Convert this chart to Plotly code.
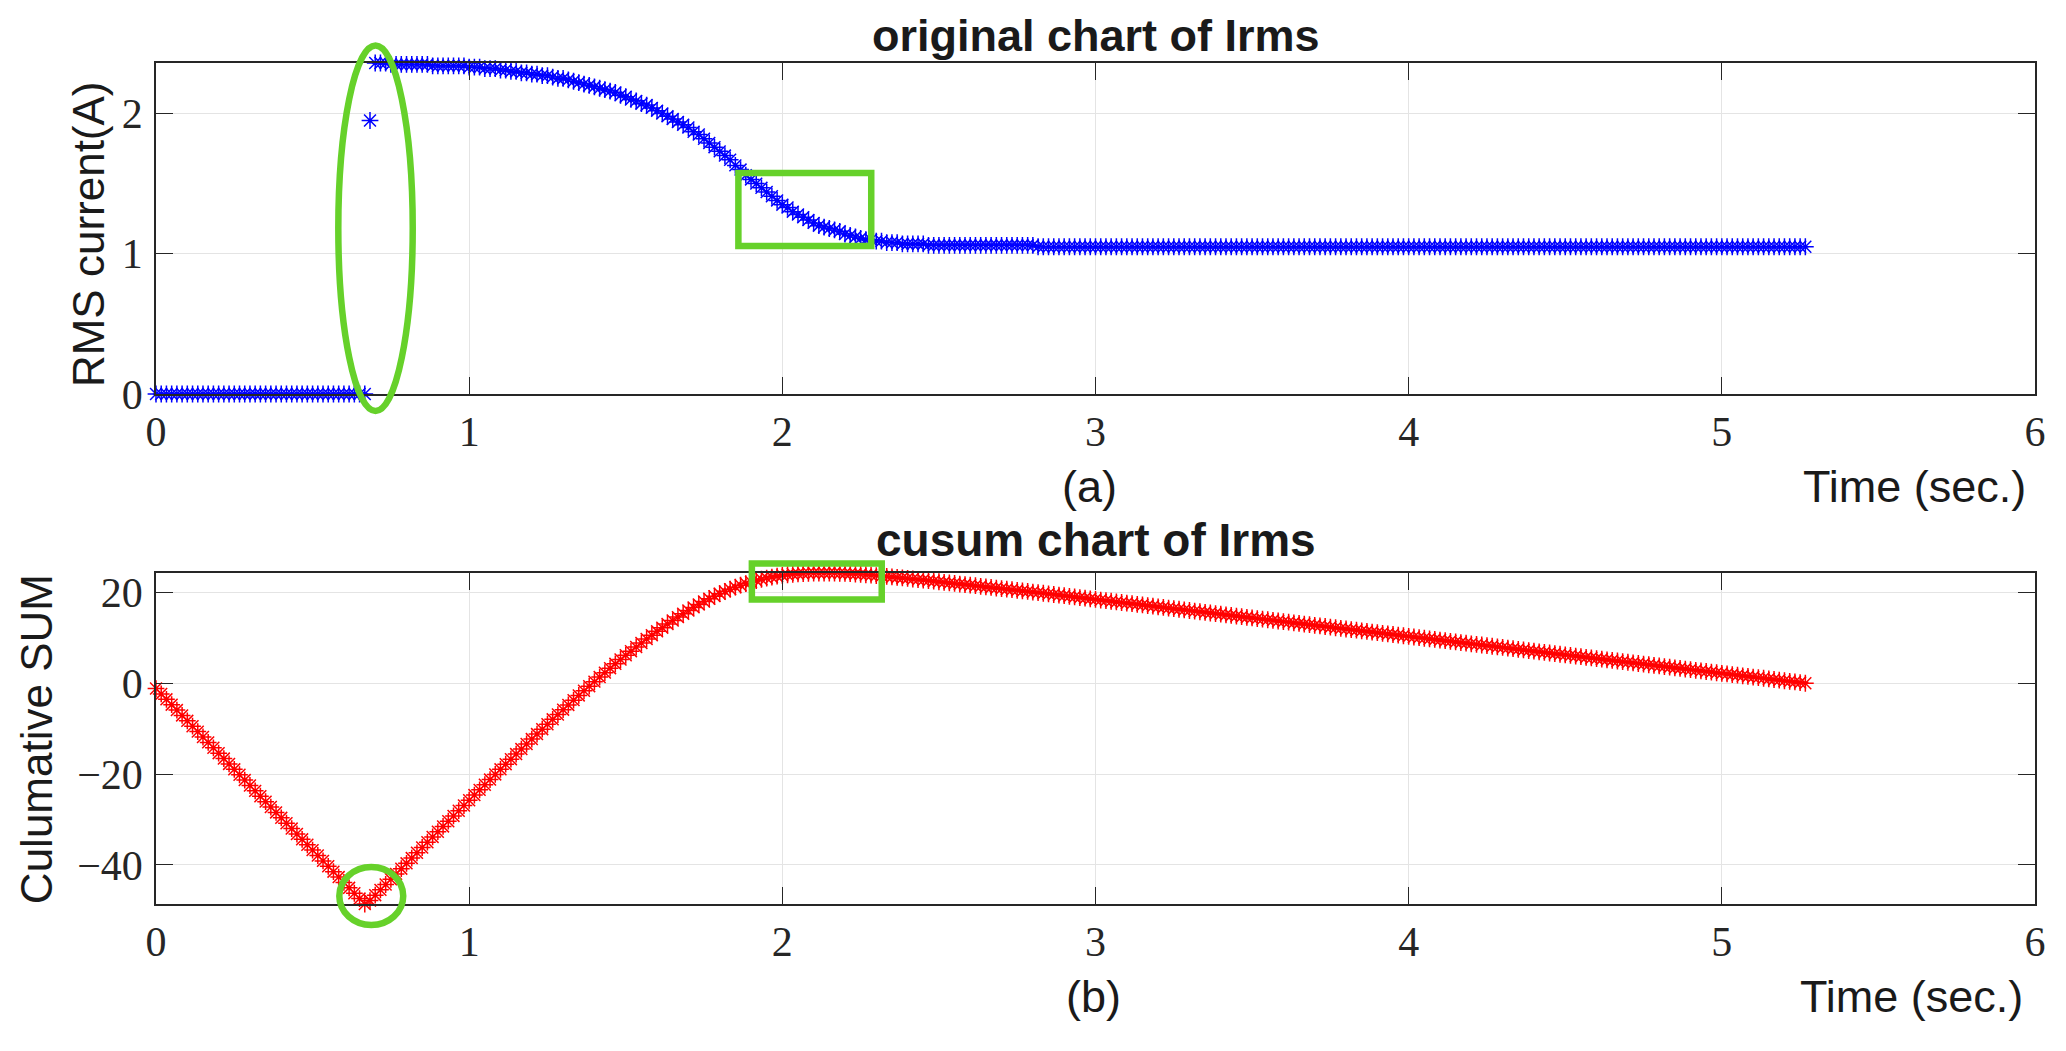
import plotly.graph_objects as go

# ---------------- data ----------------
SAMPLE_RATE_HZ = 60  # one RMS value per 60 Hz cycle

irms = [
    0.00, 0.00, 0.00, 0.00, 0.00, 0.00, 0.00, 0.00, 0.00, 0.00,
    0.00, 0.00, 0.00, 0.00, 0.00, 0.00, 0.00, 0.00, 0.00, 0.00,
    0.00, 0.00, 0.00, 0.00, 0.00, 0.00, 0.00, 0.00, 0.00, 0.00,
    0.00, 0.00, 0.00, 0.00, 0.00, 0.00, 0.00, 0.00, 0.00, 0.00,
    0.00,
    1.95, 2.36, 2.36, 2.36,
    2.35, 2.35, 2.35, 2.35, 2.35, 2.35, 2.35, 2.35,
    2.34, 2.34, 2.34, 2.34, 2.34, 2.34, 2.34,
    2.33, 2.33, 2.33, 2.32, 2.32, 2.32, 2.31, 2.31, 2.30, 2.30,
    2.29, 2.29, 2.28, 2.28, 2.27, 2.27, 2.26, 2.25, 2.25,
    2.24, 2.23, 2.22, 2.21, 2.20, 2.19, 2.18, 2.17,
    2.16, 2.15, 2.13, 2.12, 2.10, 2.09, 2.07, 2.06,
    2.04, 2.02, 2.00, 1.98, 1.96, 1.94, 1.92, 1.90,
    1.87, 1.85, 1.82, 1.79, 1.76, 1.73,
    1.70, 1.67, 1.63, 1.60, 1.56, 1.53,
    1.50, 1.47, 1.44, 1.41, 1.38, 1.35,
    1.33, 1.30, 1.28, 1.26, 1.24, 1.22,
    1.20, 1.19, 1.18, 1.17, 1.16, 1.14,
    1.13, 1.12, 1.11, 1.10, 1.10, 1.09,
    1.09, 1.08, 1.08, 1.08, 1.07, 1.07,
    1.07, 1.07, 1.07,
    1.06, 1.06, 1.06, 1.06, 1.06, 1.06, 1.06, 1.06, 1.06,
    1.06, 1.06, 1.06, 1.06, 1.06, 1.06, 1.06, 1.06, 1.06, 1.06, 1.06, 1.06,
    1.05, 1.05, 1.05, 1.05, 1.05, 1.05, 1.05, 1.05, 1.05, 1.05,
    1.05, 1.05, 1.05, 1.05, 1.05, 1.05, 1.05, 1.05, 1.05, 1.05,
    1.05, 1.05, 1.05, 1.05, 1.05, 1.05, 1.05, 1.05, 1.05, 1.05,
    1.05, 1.05, 1.05, 1.05, 1.05, 1.05, 1.05, 1.05, 1.05, 1.05,
    1.05, 1.05, 1.05, 1.05, 1.05, 1.05, 1.05, 1.05, 1.05, 1.05,
    1.05, 1.05, 1.05, 1.05, 1.05, 1.05, 1.05, 1.05, 1.05, 1.05,
    1.05, 1.05, 1.05, 1.05, 1.05, 1.05, 1.05, 1.05, 1.05, 1.05,
    1.05, 1.05, 1.05, 1.05, 1.05, 1.05, 1.05, 1.05, 1.05, 1.05,
    1.05, 1.05, 1.05, 1.05, 1.05, 1.05, 1.05, 1.05, 1.05, 1.05,
    1.05, 1.05, 1.05, 1.05, 1.05, 1.05, 1.05, 1.05, 1.05, 1.05,
    1.05, 1.05, 1.05, 1.05, 1.05, 1.05, 1.05, 1.05, 1.05, 1.05,
    1.05, 1.05, 1.05, 1.05, 1.05, 1.05, 1.05, 1.05, 1.05, 1.05,
    1.05, 1.05, 1.05, 1.05, 1.05, 1.05, 1.05, 1.05, 1.05, 1.05,
    1.05, 1.05, 1.05, 1.05, 1.05, 1.05, 1.05, 1.05, 1.05, 1.05,
    1.05, 1.05, 1.05, 1.05, 1.05, 1.05, 1.05, 1.05,
]

cusum = [
    -1.19, -2.37, -3.56, -4.74, -5.93, -7.11, -8.30, -9.48, -10.67, -11.86,
    -13.04, -14.23, -15.41, -16.60, -17.78, -18.97, -20.16, -21.34, -22.53, -23.71,
    -24.90, -26.08, -27.27, -28.45, -29.64, -30.83, -32.01, -33.20, -34.38, -35.57,
    -36.75, -37.94, -39.12, -40.31, -41.50, -42.68, -43.87, -45.05, -46.24, -47.42,
    -48.61,
    -47.85, -46.67, -45.50, -44.32, -43.16, -41.99, -40.83, -39.66, -38.50, -37.34,
    -36.17, -35.01, -33.85, -32.70, -31.54, -30.39, -29.23, -28.08, -26.93, -25.78,
    -24.64, -23.49, -22.36, -21.22, -20.09, -18.97, -17.84, -16.73, -15.61, -14.51,
    -13.40, -12.31, -11.21, -10.13, -9.05, -7.97, -6.91, -5.84, -4.79, -3.74,
    -2.71, -1.68, -0.67, 0.33, 1.33, 2.31, 3.29, 4.25, 5.20, 6.13,
    7.04, 7.95, 8.83, 9.71, 10.56, 11.40, 12.21, 13.01, 13.78, 14.53,
    15.27, 15.98, 16.67, 17.33, 17.97, 18.57, 19.15, 19.69, 20.20, 20.69,
    21.13, 21.55, 21.92, 22.27, 22.58, 22.86, 23.12, 23.34, 23.54, 23.70,
    23.85, 23.96, 24.06, 24.13, 24.18, 24.22, 24.23, 24.24, 24.23, 24.22,
    24.19, 24.15, 24.09, 24.02, 23.95, 23.86, 23.78, 23.68, 23.59, 23.48,
    23.37, 23.27, 23.15, 23.04, 22.92, 22.81, 22.69, 22.57, 22.44, 22.31,
    22.19, 22.06, 21.94, 21.81, 21.69, 21.56, 21.44, 21.31, 21.18, 21.06,
    20.93, 20.81, 20.68, 20.56, 20.43, 20.30, 20.18, 20.05,
    19.92, 19.78, 19.65, 19.51, 19.38, 19.24, 19.10, 18.97, 18.83, 18.70,
    18.56, 18.43, 18.29, 18.16, 18.02, 17.88, 17.75, 17.61, 17.48, 17.34,
    17.21, 17.07, 16.93, 16.80, 16.66, 16.53, 16.39, 16.26, 16.12, 15.99,
    15.85, 15.71, 15.58, 15.44, 15.31, 15.17, 15.04, 14.90, 14.77, 14.63,
    14.49, 14.36, 14.22, 14.09, 13.95, 13.82, 13.68, 13.54, 13.41, 13.27,
    13.14, 13.00, 12.87, 12.73, 12.60, 12.46, 12.32, 12.19, 12.05, 11.92,
    11.78, 11.65, 11.51, 11.38, 11.24, 11.10, 10.97, 10.83, 10.70, 10.56,
    10.43, 10.29, 10.15, 10.02, 9.88, 9.75, 9.61, 9.48, 9.34, 9.21,
    9.07, 8.93, 8.80, 8.66, 8.53, 8.39, 8.26, 8.12, 7.99, 7.85,
    7.71, 7.58, 7.44, 7.31, 7.17, 7.04, 6.90, 6.76, 6.63, 6.49,
    6.36, 6.22, 6.09, 5.95, 5.82, 5.68, 5.54, 5.41, 5.27, 5.14,
    5.00, 4.87, 4.73, 4.60, 4.46, 4.32, 4.19, 4.05, 3.92, 3.78,
    3.65, 3.51, 3.37, 3.24, 3.10, 2.97, 2.83, 2.70, 2.56, 2.43,
    2.29, 2.15, 2.02, 1.88, 1.75, 1.61, 1.48, 1.34, 1.21, 1.07,
    0.93, 0.80, 0.66, 0.53, 0.39, 0.26, 0.12, -0.02,
]

X_TICKS = [0, 1, 2, 3, 4, 5, 6]
X_TICK_TEXT = ["0", "1", "2", "3", "4", "5", "6"]
Y1_TICKS = [0, 1, 2]
Y1_TICK_TEXT = ["0", "1", "2"]
Y2_TICKS = [-40, -20, 0, 20]
Y2_TICK_TEXT = ["\u221240", "\u221220", "0", "20"]

TITLE_TOP = "original chart of Irms"
TITLE_BOTTOM = "cusum chart of Irms"
YLABEL_TOP = "RMS current(A)"
YLABEL_BOTTOM = "Culumative SUM"
XLABEL = "Time (sec.)"
TAG_TOP = "(a)"
TAG_BOTTOM = "(b)"

# ---------------- figure ----------------
n = min(len(irms), len(cusum))
time_s = [k / SAMPLE_RATE_HZ for k in range(n)]
irms_v = irms[:n]
cusum_v = cusum[:n]

# page body has an 8 px margin; size the figure so it fills the window exactly
OFF = 8
W, H = 2066 - 2 * OFF, 1051 - 2 * OFF
# plot-area edges in window pixels
LEFT, RIGHT = 156, 2037
TOP1, BOT1 = 63, 394
TOP2, BOT2 = 573, 904
ML, MT = LEFT - OFF, TOP1 - OFF
MR = W - (RIGHT - OFF)
MB = H - (BOT2 - OFF)
PW, PH = W - ML - MR, H - MT - MB


def px(xw):
    return (xw - OFF - ML) / PW


def py(yw):
    return (H - MB - (yw - OFF)) / PH


AX_COLOR = "#262626"
GRID_COLOR = "#e4e4e4"
GREEN = "#66d12a"
SANS = "Liberation Sans, Arial, sans-serif"
SERIF = "Liberation Serif, Times New Roman, serif"

fig = go.Figure()
fig.add_trace(go.Scatter(
    x=time_s, y=irms_v, mode="markers", xaxis="x", yaxis="y",
    marker=dict(symbol="asterisk-open", size=14, color="#0000ff",
                line=dict(color="#0000ff", width=1.5)),
    cliponaxis=False, showlegend=False, hoverinfo="x+y"))
fig.add_trace(go.Scatter(
    x=time_s, y=cusum_v, mode="markers", xaxis="x2", yaxis="y2",
    marker=dict(symbol="asterisk-open", size=14, color="#ff0000",
                line=dict(color="#ff0000", width=1.5)),
    cliponaxis=False, showlegend=False, hoverinfo="x+y"))

common = dict(
    showline=True, linecolor=AX_COLOR, linewidth=1.5, mirror="ticks",
    ticks="inside", ticklen=17, tickwidth=1.2, tickcolor=AX_COLOR,
    showgrid=True, gridcolor=GRID_COLOR, gridwidth=1, zeroline=False,
    tickfont=dict(family=SERIF, size=42, color=AX_COLOR),
)

top_dom = [py(BOT1), 1.0]
bot_dom = [0.0, py(TOP2)]

fig.update_layout(
    width=W, height=H,
    margin=dict(l=ML, r=MR, t=MT, b=MB, pad=0),
    paper_bgcolor="white", plot_bgcolor="white",
    showlegend=False,
    xaxis=dict(common, domain=[0, 1], anchor="y", range=[0, 6],
               tickmode="array", tickvals=X_TICKS, ticktext=X_TICK_TEXT,
               ticklabelstandoff=0),
    yaxis=dict(common, domain=top_dom, anchor="x",
               range=[min(irms_v), max(irms_v)],
               tickmode="array", tickvals=Y1_TICKS, ticktext=Y1_TICK_TEXT,
               ticklabelstandoff=3),
    xaxis2=dict(common, domain=[0, 1], anchor="y2", range=[0, 6],
                tickmode="array", tickvals=X_TICKS, ticktext=X_TICK_TEXT,
                ticklabelstandoff=0),
    yaxis2=dict(common, domain=bot_dom, anchor="x2",
                range=[min(cusum_v), max(cusum_v)],
                tickmode="array", tickvals=Y2_TICKS, ticktext=Y2_TICK_TEXT,
                ticklabelstandoff=3),
)

# top title: box starts at the top edge of the figure so it is never clipped
fig.add_annotation(text="<b>%s</b>" % TITLE_TOP, x=0.5, y=py(OFF + 1),
                   xref="paper", yref="paper", xanchor="center", yanchor="top",
                   showarrow=False, borderpad=0,
                   font=dict(family=SANS, size=45, color="#1a1a1a"))

ann = [
    dict(text="<b>%s</b>" % TITLE_BOTTOM, x=0.5, y=py(540), size=46),
    dict(text=TAG_TOP, x=px(1090), y=py(486), size=45),
    dict(text=TAG_BOTTOM, x=px(1094), y=py(996), size=45),
]
for a in ann:
    fig.add_annotation(text=a["text"], x=a["x"], y=a["y"], xref="paper", yref="paper",
                       xanchor="center", yanchor="middle", showarrow=False,
                       font=dict(family=SANS, size=a["size"], color="#1a1a1a"))
for yy, xr in [(486, 2030), (996, 2027)]:
    fig.add_annotation(text=XLABEL, x=px(xr), y=py(yy), xref="paper", yref="paper",
                       xanchor="right", yanchor="middle", showarrow=False,
                       font=dict(family=SANS, size=45, color="#1a1a1a"))
for txt, xx, yy in [(YLABEL_TOP, 89, 234), (YLABEL_BOTTOM, 36, 739)]:
    fig.add_annotation(text=txt, x=px(xx), y=py(yy), xref="paper", yref="paper",
                       xanchor="center", yanchor="middle", textangle=-90, showarrow=False,
                       font=dict(family=SANS, size=44, color="#1a1a1a"))

# green highlight marks (window-pixel positions converted to paper coordinates)
hl = [
    ("circle", 338.5, 45.5, 413, 411),
    ("rect", 739, 173, 872, 246),
    ("rect", 752.5, 563.5, 882.5, 599.5),
    ("circle", 339.5, 867, 403.5, 925),
]
for kind, x0, y0, x1, y1 in hl:
    fig.add_shape(type=kind, xref="paper", yref="paper",
                  x0=px(x0), x1=px(x1), y0=py(y1), y1=py(y0),
                  line=dict(color=GREEN, width=6.5), fillcolor="rgba(0,0,0,0)",
                  layer="above")

fig.write_html("out.html")
